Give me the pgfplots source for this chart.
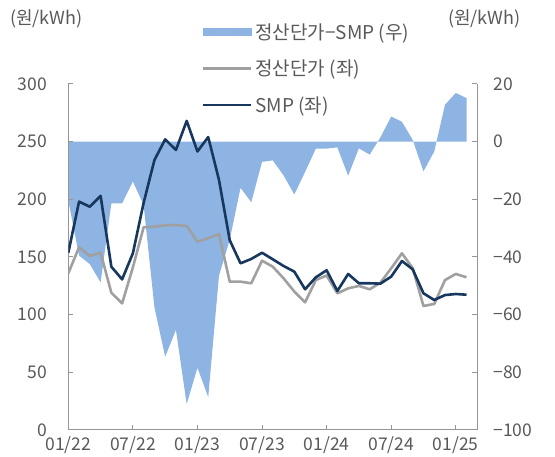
\documentclass[border=0pt]{standalone}
\usepackage{fontspec}
\setmainfont{Noto Sans CJK KR}
\usepackage{pgfplots}
\pgfplotsset{compat=1.18}
\definecolor{areablue}{RGB}{141,180,226}
\definecolor{smpnavy}{RGB}{23,55,94}
\definecolor{lgray}{RGB}{160,160,160}
\definecolor{axgray}{RGB}{150,150,150}
\definecolor{txt}{RGB}{89,89,89}
\begin{document}
\begin{tikzpicture}
\path[use as bounding box] (0,0) rectangle (555pt,457pt);
\pgfplotsset{
  base/.style={at={(68.3pt,27pt)}, anchor=south west, scale only axis,
    width=409pt, height=346pt, xmin=0, xmax=38,
    tick align=inside, major tick length=5pt,
    axis line style={axgray, line width=1pt},
    tick style={axgray, line width=1pt},
    ticklabel style={font=\fontsize{17.5}{20}\selectfont, text=txt},
    /pgf/number format/assume math mode=true}
}
\begin{axis}[base, axis x line=none, axis y line*=right,
  ymin=-100, ymax=20, ytick={-100,-80,-60,-40,-20,0,20},
  yticklabels={−100,−80,−60,−40,−20,0,20},
  yticklabel style={anchor=west, inner sep=0pt, xshift=16pt}]
\addplot[fill=areablue, draw=none] coordinates {
(0,0) (0,-20.5) (1,-39.5) (2,-42.5) (3,-48.8) (4,-21.4) (5,-21.4) (6,-13.8) (7,-22)
(8,-57.4) (9,-74.6) (10,-65.3) (11,-91) (12,-78.4) (13,-88.6) (14,-46.5) (15,-34)
(16,-16) (17,-21) (18,-7) (19,-6.5) (20,-11.7) (21,-18.3) (22,-10.5) (23,-2.4)
(24,-2.4) (25,-2) (26,-11.8) (27,-2.3) (28,-4.5) (29,1.5) (30,8.7) (31,6.9)
(32,0.6) (33,-10.3) (34,-3.4) (35,12.8) (36,16.9) (37,15.1) (37,0)} -- cycle;
\end{axis}
\begin{axis}[base, axis x line*=bottom, axis y line*=left,
  ymin=0, ymax=300, ytick={0,50,...,300},
  xtick={0,6,...,36}, xticklabels={01/22,07/22,01/23,07/23,01/24,07/24,01/25},
  yticklabel style={anchor=east, inner sep=0pt, xshift=-21pt},
  xticklabel style={anchor=north, inner sep=0pt, yshift=-6pt},
  legend image code/.code={\draw[#1] (0pt,0pt) -- (48pt,0pt);},
  legend cell align=left,
  legend style={draw=none, fill=none, at={(0.3262,1.176)}, anchor=north west,
    inner sep=0pt, row sep=19.3pt, column sep=3pt,
    nodes={inner sep=0pt, font=\fontsize{19}{22}\selectfont, text=txt}}]
\addlegendimage{legend image code/.code={\fill[areablue] (0pt,-3.5pt) rectangle (48pt,3.5pt);}}
\addlegendentry{정산단가−SMP (우)}
\addplot[lgray, line width=2.6pt, line join=round] coordinates {
(0,135.9) (1,158.4) (2,150.9) (3,153.7) (4,119) (5,109.8) (6,141) (7,175.8)
(8,176.3) (9,177.5) (10,177.7) (11,176.9) (12,163.3) (13,166.2) (14,170) (15,128.6)
(16,128.6) (17,127.2) (18,146.8) (19,141.6) (20,131.5) (21,120) (22,110.7) (23,130)
(24,134) (25,118.5) (26,122.8) (27,124.9) (28,122) (29,127.7) (30,140.2) (31,153.2)
(32,140.2) (33,107.5) (34,109.3) (35,130) (36,135.3) (37,132.4)};
\addlegendentry{정산단가 (좌)}
\addplot[smpnavy, line width=2.6pt, line join=round] coordinates {
(0,153.7) (1,198) (2,193.6) (3,203) (4,141.6) (5,130.6) (6,153.2) (7,197)
(8,234) (9,252) (10,242.8) (11,268) (12,241.5) (13,254) (14,216.8) (15,164.5)
(16,144.5) (17,148.3) (18,153.7) (19,148) (20,142.2) (21,137.3) (22,122) (23,132.4)
(24,138.5) (25,120.5) (26,135.3) (27,127.2) (28,127.2) (29,126.9) (30,133) (31,146.5)
(32,139.3) (33,118.5) (34,112.7) (35,117) (36,117.9) (37,117.3)};
\addlegendentry{SMP (좌)}
\end{axis}
\node[anchor=west, inner sep=0pt, font=\fontsize{18}{21}\selectfont, text=txt] at (10pt,438pt) {(원/kWh)};
\node[anchor=west, inner sep=0pt, font=\fontsize{18}{21}\selectfont, text=txt] at (448pt,438pt) {(원/kWh)};
\end{tikzpicture}
\end{document}
